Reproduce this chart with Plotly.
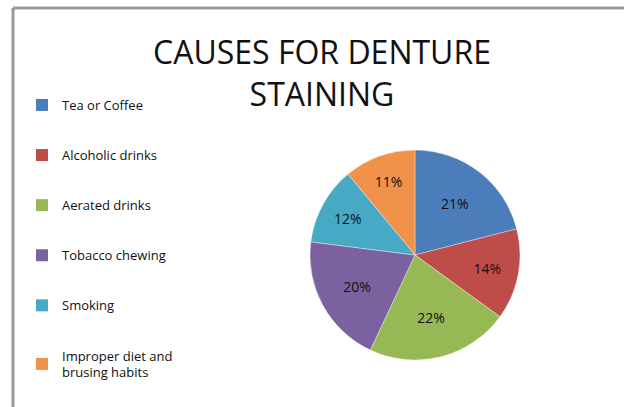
import plotly.graph_objects as go

categories = ["Tea or Coffee", "Alcoholic drinks", "Aerated drinks",
              "Tobacco chewing", "Smoking", "Improper diet and<br>brusing habits"]
values = [21, 14, 22, 20, 12, 11]
colors = ["#4A7DBA", "#BE4D4A", "#97B955", "#7C61A0", "#47A9C4", "#F1924A"]

W, H = 624, 407

fig = go.Figure()
fig.add_trace(go.Pie(
    labels=categories, values=values, sort=False, direction="clockwise", rotation=0,
    marker=dict(colors=colors, line=dict(color="rgba(255,255,255,0.6)", width=0.6)),
    texttemplate="%{value}%", textposition="inside", insidetextorientation="horizontal",
    textfont=dict(family="Open Sans", size=14, color="#111111"),
    domain=dict(x=[(415 - 115) / W, (415 + 115) / W], y=[1 - 360 / H, 1 - 150 / H]),
    showlegend=False, hoverinfo="label+percent",
))

# legend entries (one per category)
for i, (c, col) in enumerate(zip(categories, colors)):
    fig.add_trace(go.Scatter(
        x=[None], y=[None], mode="markers", name=c, legendgroup=f"g{i}",
        marker=dict(symbol="square", size=9, color=col),
    ))

fig.update_layout(
    width=W, height=H, margin=dict(l=0, r=0, t=0, b=0),
    paper_bgcolor="white", plot_bgcolor="white",
    xaxis=dict(visible=False), yaxis=dict(visible=False),
    showlegend=True,
    legend=dict(x=22 / W, y=1 - 90 / H, xanchor="left", yanchor="top",
                tracegroupgap=30.2, itemsizing="constant",
                font=dict(family="Open Sans", size=13, color="#111111"),
                bgcolor="rgba(0,0,0,0)"),
    annotations=[dict(
        text="CAUSES FOR DENTURE<br>STAINING", x=322 / W, y=1 - 72 / H,
        xref="paper", yref="paper", showarrow=False, xanchor="center", yanchor="middle",
        font=dict(family="Open Sans", size=32, color="#111111"), align="center",
    )],
    shapes=[
        dict(type="line", xref="paper", yref="paper", x0=13 / W, x1=13 / W, y0=0, y1=1 - 8 / H,
             line=dict(color="#9a9a9a", width=3)),
        dict(type="line", xref="paper", yref="paper", x0=13 / W, x1=1, y0=1 - 8 / H, y1=1 - 8 / H,
             line=dict(color="#9a9a9a", width=3)),
    ],
)

fig.write_html("out.html")
